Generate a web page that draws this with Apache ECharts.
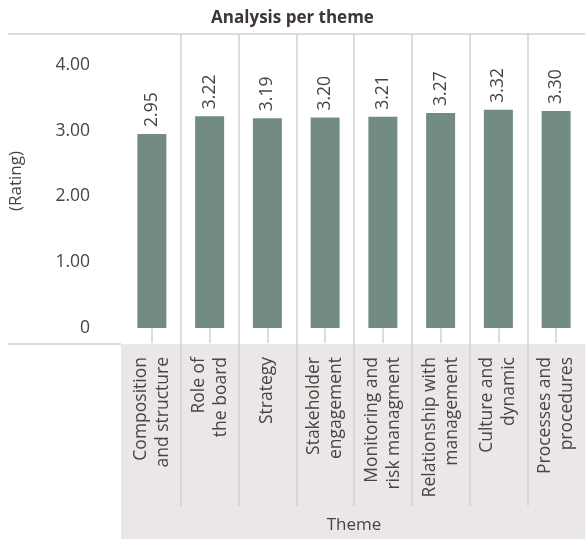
<!DOCTYPE html>
<html>
<head>
<meta charset="utf-8">
<script src="https://cdn.jsdelivr.net/npm/echarts@6/dist/echarts.min.js"></script>
<style>html,body{margin:0;padding:0;background:#fff}#c{width:585px;height:539px}</style>
</head>
<body>
<div id="c"></div>
<script>
var categories = ["Composition\nand structure","Role of\nthe board","Strategy","Stakeholder\nengagement","Monitoring and\nrisk managment","Relationship with\nmanagement","Culture and\ndynamic","Processes and\nprocedures"];
var ratings = [2.95, 3.22, 3.19, 3.20, 3.21, 3.27, 3.32, 3.30];
var titleText = "Analysis per theme";
var yName = "(Rating)";
var xName = "Theme";

var FONT = "'Open Sans', sans-serif";
var TXT = "#4b4343";
var SEP = "#d2d0d0";
var chart = echarts.init(document.getElementById('c'), null, {renderer: 'canvas'});
chart.setOption({
  animation: false,
  textStyle: {fontFamily: FONT},
  title: {text: titleText, left: 'center', top: 5,
    textStyle: {fontFamily: FONT, fontSize: 17, fontWeight: 'bold', color: '#3e3636'}},
  graphic: [
    {type: 'line', shape: {x1: 8, y1: 34, x2: 585, y2: 34}, style: {stroke: SEP, lineWidth: 1.5}, z: 5},
    {type: 'line', shape: {x1: 8, y1: 344, x2: 121, y2: 344}, style: {stroke: SEP, lineWidth: 1.5}, z: 5}
  ],
  grid: [
    {left: 123, right: 0, top: 34, bottom: 211, containLabel: false, outerBoundsMode: 'none'},
    {left: 123, right: 0, top: 34, bottom: 33, containLabel: false, outerBoundsMode: 'none'},
    {left: 121, right: 0, top: 344, bottom: 0, show: true, backgroundColor: '#ebe7e6', borderWidth: 0, outerBoundsMode: 'none'}
  ],
  xAxis: [
    {type: 'category', gridIndex: 0, data: categories,
      axisLine: {show: false},
      axisTick: {show: true, alignWithLabel: true, length: 15, lineStyle: {color: SEP, width: 1.5}},
      axisLabel: {rotate: 90, margin: 29, fontSize: 17.5, lineHeight: 22, color: TXT, fontFamily: FONT, interval: 0},
      splitLine: {show: false},
      name: xName, nameLocation: 'middle', nameGap: 189,
      nameTextStyle: {fontSize: 17, color: TXT, fontFamily: FONT}
    },
    {type: 'category', gridIndex: 1, data: categories,
      axisLine: {show: false}, axisTick: {show: false}, axisLabel: {show: false},
      splitLine: {show: true, showMinLine: false, showMaxLine: false, interval: 0, lineStyle: {color: SEP, width: 1.5}}
    },
    {type: 'category', gridIndex: 2, data: categories, show: false}
  ],
  yAxis: [
    {type: 'value', gridIndex: 0, min: 0, max: 4.47, interval: 1,
      axisLine: {show: false}, axisTick: {show: false}, splitLine: {show: false},
      axisLabel: {margin: 33, fontSize: 17.5, color: TXT, fontFamily: FONT, showMaxLabel: false,
        formatter: function (v) { return v === 0 ? '0' : v.toFixed(2); }},
      name: yName, nameLocation: 'middle', nameGap: 98,
      nameTextStyle: {fontSize: 17, color: TXT, fontFamily: FONT}
    },
    {type: 'value', gridIndex: 1, show: false},
    {type: 'value', gridIndex: 2, show: false}
  ],
  series: [{
    type: 'bar', xAxisIndex: 0, yAxisIndex: 0, data: ratings,
    barWidth: 29,
    itemStyle: {color: '#728c84'},
    label: {show: true, position: 'top', rotate: 90, align: 'left', verticalAlign: 'middle', distance: 7,
      fontSize: 17.5, color: TXT, fontFamily: FONT,
      formatter: function (p) { return p.value.toFixed(2); }}
  }]
});
</script>
</body>
</html>
